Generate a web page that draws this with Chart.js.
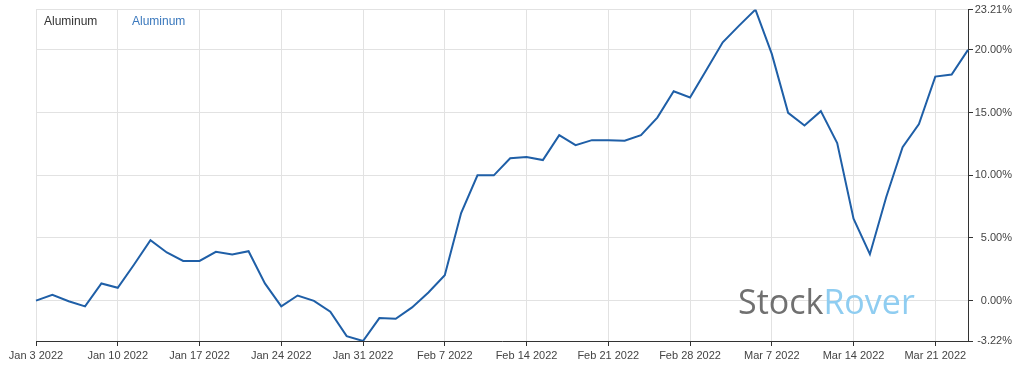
<!DOCTYPE html>
<html>
<head>
<meta charset="utf-8">
<script src="https://cdn.jsdelivr.net/npm/chart.js@4/dist/chart.umd.min.js"></script>
<style>
  html, body { margin: 0; padding: 0; background: #fff; }
  #wrap { position: relative; width: 1024px; height: 371px; }
  #legend { position: absolute; left: 44px; top: 14px; font: 12px "Liberation Sans", Arial, sans-serif; }
  #legend span { position: absolute; white-space: nowrap; }
  #mark { position: absolute; left: 738px; top: 284px; font: 34px "Open Sans", sans-serif; line-height: 1; white-space: nowrap; }
</style>
</head>
<body>
<div id="wrap">
  <canvas id="myChart"></canvas>
  <div id="legend">
    <span style="left:0; color:#333;">Aluminum</span>
    <span style="left:88px; color:#3a78bd;">Aluminum</span>
  </div>
  <div id="mark"><span style="color:#707070;">Stock</span><span style="color:#8fcdf1;">Rover</span></div>
</div>
<script>
// trading days shown on the chart (weekdays, Jan 3 - Mar 23 2022)
const days = [
  'Jan 3 2022', 'Jan 4 2022', 'Jan 5 2022', 'Jan 6 2022', 'Jan 7 2022',
  'Jan 10 2022', 'Jan 11 2022', 'Jan 12 2022', 'Jan 13 2022', 'Jan 14 2022',
  'Jan 17 2022', 'Jan 18 2022', 'Jan 19 2022', 'Jan 20 2022', 'Jan 21 2022',
  'Jan 24 2022', 'Jan 25 2022', 'Jan 26 2022', 'Jan 27 2022', 'Jan 28 2022',
  'Jan 31 2022', 'Feb 1 2022', 'Feb 2 2022', 'Feb 3 2022', 'Feb 4 2022',
  'Feb 7 2022', 'Feb 8 2022', 'Feb 9 2022', 'Feb 10 2022', 'Feb 11 2022',
  'Feb 14 2022', 'Feb 15 2022', 'Feb 16 2022', 'Feb 17 2022', 'Feb 18 2022',
  'Feb 21 2022', 'Feb 22 2022', 'Feb 23 2022', 'Feb 24 2022', 'Feb 25 2022',
  'Feb 28 2022', 'Mar 1 2022', 'Mar 2 2022', 'Mar 3 2022', 'Mar 4 2022',
  'Mar 7 2022', 'Mar 8 2022', 'Mar 9 2022', 'Mar 10 2022', 'Mar 11 2022',
  'Mar 14 2022', 'Mar 15 2022', 'Mar 16 2022', 'Mar 17 2022', 'Mar 18 2022',
  'Mar 21 2022', 'Mar 22 2022', 'Mar 23 2022'
];

// Aluminum, % change since Jan 3
const aluminum = [
  0.00, 0.46, -0.05, -0.46, 1.37,
  1.02, 2.88, 4.82, 3.84, 3.17,
  3.17, 3.89, 3.68, 3.94, 1.37,
  -0.46, 0.41, -0.02, -0.89, -2.83,
  -3.22, -1.39, -1.45, -0.54, 0.65,
  2.03, 6.99, 9.99, 9.99, 11.35,
  11.45, 11.21, 13.20, 12.40, 12.80,
  12.80, 12.75, 13.20, 14.60, 16.70,
  16.20, 18.40, 20.60, 21.93, 23.21,
  19.68, 14.98, 13.97, 15.11, 12.56,
  6.54, 3.70, 8.26, 12.24, 14.08,
  17.87, 18.03, 20.00
];

// y axis labels: range ends plus round steps
const yMin = -3.22;
const yMax = 23.21;
const yTicks = [-3.22, 0, 5, 10, 15, 20, 23.21];

const tickFont = { family: '"Liberation Sans", Arial, sans-serif', size: 11 };

document.addEventListener('DOMContentLoaded', function () {
    const ctx = document.getElementById('myChart').getContext('2d');

    new Chart(ctx, {
        type: 'line',
        data: {
            labels: days,
            datasets: [{
                label: 'Aluminum',
                data: aluminum,
                borderColor: '#1f5fa7',
                borderWidth: 2,
                pointRadius: 0,
                tension: 0,
                fill: false
            }]
        },
        options: {
            responsive: true,
            maintainAspectRatio: false,
            animation: false,
            layout: { padding: { left: 36, top: 9, right: 12, bottom: 0 } },
            plugins: {
                legend: { display: false },
                tooltip: { enabled: false }
            },
            scales: {
                x: {
                    type: 'category',
                    offset: false,
                    afterBuildTicks: function (scale) {
                        // only Mondays get a tick and a grid line
                        scale.ticks = scale.ticks.filter(t => t.value % 5 === 0);
                    },
                    afterFit: function (scale) { scale.height = 30; },
                    ticks: {
                        autoSkip: false,
                        maxRotation: 0,
                        padding: 3,
                        color: '#444',
                        font: tickFont
                    },
                    grid: {
                        color: '#e2e2e2',
                        tickColor: '#333',
                        tickLength: 5
                    },
                    border: { color: '#333', width: 1 }
                },
                y: {
                    position: 'right',
                    min: yMin,
                    max: yMax,
                    afterBuildTicks: function (scale) {
                        scale.ticks = yTicks.map(v => ({ value: v }));
                    },
                    afterFit: function (scale) { scale.width = 44; },
                    ticks: {
                        crossAlign: 'far',
                        padding: 3,
                        color: '#444',
                        font: tickFont,
                        callback: v => v.toFixed(2) + '%'
                    },
                    grid: {
                        color: '#e2e2e2',
                        tickColor: '#333',
                        tickLength: 5
                    },
                    border: { color: '#333', width: 1 }
                }
            }
        }
    });
});
</script>
</body>
</html>
